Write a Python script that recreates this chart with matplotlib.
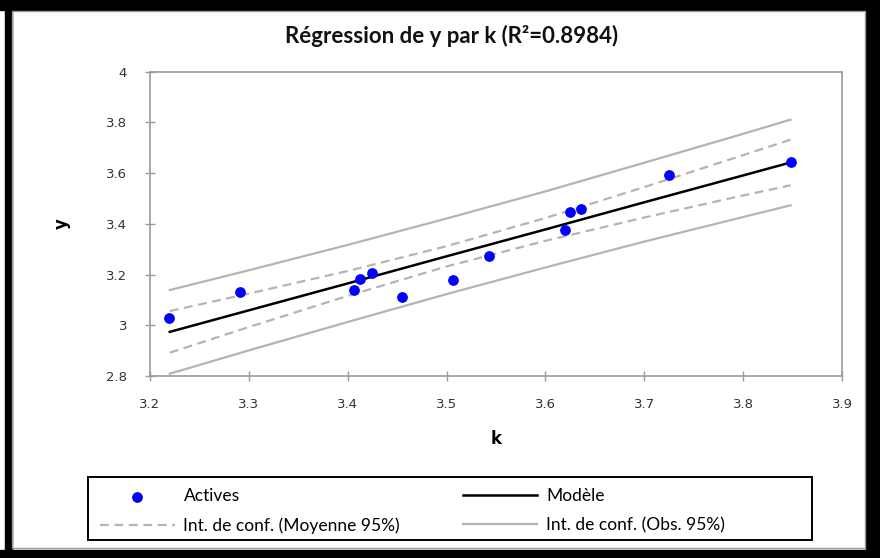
import matplotlib
matplotlib.use("Agg")
import matplotlib.pyplot as plt
from matplotlib.patches import Rectangle

# --- DATA ---
k_obs = [3.2196, 3.2908, 3.4068, 3.4126, 3.4248, 3.4550, 3.5069,
         3.5425, 3.6197, 3.6244, 3.6359, 3.7253, 3.8480]
y_obs = [3.028, 3.131, 3.141, 3.184, 3.205, 3.110, 3.178,
         3.273, 3.374, 3.448, 3.460, 3.591, 3.643]

k_fit = [3.22, 3.30, 3.40, 3.50, 3.60, 3.70, 3.80, 3.848]
y_model = [2.974, 3.059, 3.165, 3.272, 3.378, 3.485, 3.591, 3.642]
mean_up = [3.056, 3.125, 3.214, 3.312, 3.423, 3.545, 3.671, 3.732]
mean_lo = [2.892, 2.993, 3.116, 3.232, 3.333, 3.425, 3.512, 3.552]
obs_up = [3.139, 3.217, 3.317, 3.421, 3.528, 3.641, 3.755, 3.811]
obs_lo = [2.809, 2.901, 3.013, 3.123, 3.228, 3.330, 3.427, 3.473]

x_ticks = [3.2, 3.3, 3.4, 3.5, 3.6, 3.7, 3.8, 3.9]
y_ticks = [2.8, 3.0, 3.2, 3.4, 3.6, 3.8, 4.0]
y_tick_labels = ['2.8', '3', '3.2', '3.4', '3.6', '3.8', '4']

W, H = 880, 558
AXIS_GREY = '#9a9a9a'
BAND_GREY = '#b4b4b4'

fig = plt.figure(figsize=(W / 100, H / 100), dpi=100)
fig.patch.set_facecolor('white')

# black frame round the chart area, with a thin grey inner line
frame = [(0, 548, W, 10), (0, 0, W, 8), (5, 0, 7, H), (866, 0, 14, H)]
for x0, y0, w, h in frame:
    fig.patches.append(Rectangle((x0 / W, y0 / H), w / W, h / H,
                                 transform=fig.transFigure, color='black', zorder=0))
fig.patches.append(Rectangle((12 / W, 10 / H), 853 / W, 537 / H, transform=fig.transFigure,
                             fill=False, edgecolor=AXIS_GREY, linewidth=1, zorder=1))

ax = fig.add_axes([150 / W, 1 - 376 / H, (842 - 150) / W, (376 - 71.7) / H])

ax.plot(k_fit, obs_up, color=BAND_GREY, linewidth=1.6, label='Int. de conf. (Obs. 95%)')
ax.plot(k_fit, obs_lo, color=BAND_GREY, linewidth=1.6)
ax.plot(k_fit, mean_up, color=BAND_GREY, linewidth=1.6, linestyle=(0, (4, 2.5)),
        label='Int. de conf. (Moyenne 95%)')
ax.plot(k_fit, mean_lo, color=BAND_GREY, linewidth=1.6, linestyle=(0, (4, 2.5)))
ax.plot(k_fit, y_model, color='black', linewidth=1.8, label='Modèle')
ax.scatter(k_obs, y_obs, s=45, color='#0000ff', zorder=5, label='Actives')

ax.set_xlim(3.2, 3.9)
ax.set_ylim(2.8, 4.0)
ax.set_xticks(x_ticks)
ax.set_xticklabels([f'{v:.1f}' for v in x_ticks])
ax.set_yticks(y_ticks)
ax.set_yticklabels(y_tick_labels)

for s in ax.spines.values():
    s.set_color(AXIS_GREY)
    s.set_linewidth(1.2)
ax.tick_params(axis='both', direction='inout', length=7, width=1, color=AXIS_GREY,
               labelsize=9.5, labelcolor='#333333')
ax.tick_params(axis='x', pad=12)
ax.tick_params(axis='y', pad=13)

ax.set_xlabel('k', fontsize=12, fontweight='bold', labelpad=14)
ax.set_ylabel('y', fontsize=12, fontweight='bold', labelpad=25)

fig.text(452 / W, 1 - 36 / H, 'Régression de y par k (R²=0.8984)', ha='center', va='center',
         fontsize=16, fontweight='bold', family='Lato', color='#111111')

# legend box drawn separately so the entries can sit left as in the original
fig.patches.append(Rectangle((88 / W, 1 - 540 / H), 724 / W, 63 / H, transform=fig.transFigure,
                             fill=False, edgecolor='black', linewidth=1.4, zorder=2))
h, l = ax.get_legend_handles_labels()
order = [3, 1, 2, 0]
leg = fig.legend([h[i] for i in order], [l[i] for i in order], ncol=2,
                 loc='upper left', bbox_to_anchor=(88 / W, 1 - 476 / H),
                 prop={'family': 'Lato', 'size': 12.5}, frameon=False,
                 handlelength=4.3, handletextpad=0.5, columnspacing=3.6,
                 borderpad=0.0, labelspacing=0.75, borderaxespad=0.7)

fig.savefig('out.png', dpi=100, facecolor='white')
